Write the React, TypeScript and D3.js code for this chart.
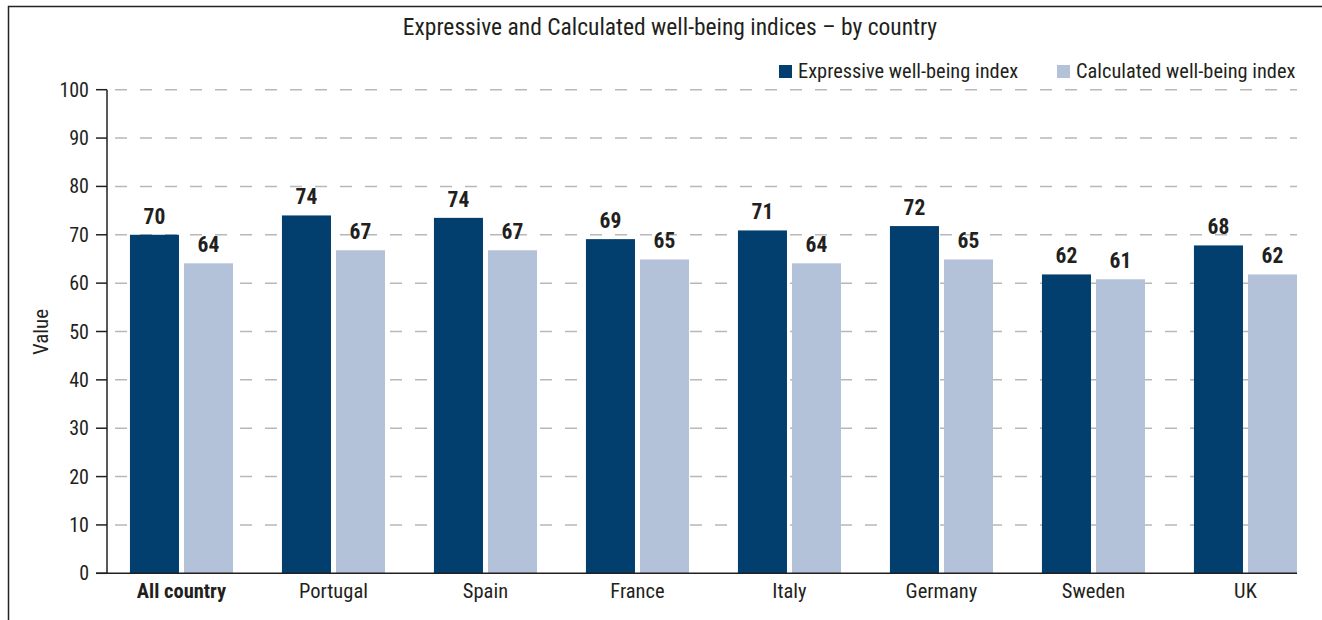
import React from "react";
import * as d3 from "d3";

const categories = ["All country", "Portugal", "Spain", "France", "Italy", "Germany", "Sweden", "UK"];
const seriesNames = ["Expressive well-being index", "Calculated well-being index"];
const expressive = [70.0, 74.0, 73.5, 69.1, 70.9, 71.8, 61.8, 67.8];
const calculated = [64.1, 66.8, 66.8, 64.9, 64.1, 64.9, 60.8, 61.8];
const yTicks = [0, 10, 20, 30, 40, 50, 60, 70, 80, 90, 100];
const colors = ["#023f6e", "#b3c2d8"];

const W = 1322;
const H = 620;
const FONT = "'Liberation Sans Narrow', 'Arial Narrow', 'Roboto Condensed', Roboto, sans-serif";

export default function App() {
  const left = 107;
  const right = 1297;
  const top = 89.7;
  const bottom = 573.3;

  const y = d3.scaleLinear().domain([0, 100]).range([bottom, top]);
  const x0 = d3
    .scaleBand<string>()
    .domain(categories)
    .range([left, right])
    .paddingInner(0.322)
    .paddingOuter(0.0755)
    .align(1);
  const x1 = d3
    .scaleBand<number>()
    .domain([0, 1])
    .range([0, x0.bandwidth()])
    .paddingInner(0.0926);

  const series = [expressive, calculated];

  return (
    <svg
      width={W}
      height={H}
      style={{ position: "absolute", left: 0, top: 0, background: "#fff" }}
      fontFamily={FONT}
    >
      <rect x={8.5} y={6.5} width={1400} height={700} fill="none" stroke="#222" strokeWidth={1.5} />
      <text x={670} y={35} textAnchor="middle" fontSize={23.5} fill="#231f20">
        Expressive and Calculated well-being indices – by country
      </text>

      {/* gridlines */}
      {yTicks.filter((t) => t > 0).map((t) => (
        <line
          key={"g" + t}
          x1={left + 8}
          x2={right}
          y1={y(t)}
          y2={y(t)}
          stroke="#b8b8b8"
          strokeWidth={1.5}
          strokeDasharray="12,13"
        />
      ))}

      {/* bars */}
      {categories.map((c, i) => (
        <g key={c} transform={`translate(${x0(c)},0)`}>
          {series.map((s, k) => (
            <rect
              key={k}
              x={x1(k)}
              y={y(s[i])}
              width={x1.bandwidth()}
              height={y(0) - y(s[i])}
              fill={colors[k]}
            />
          ))}
          {series.map((s, k) => (
            <text
              key={"l" + k}
              x={(x1(k) as number) + x1.bandwidth() / 2}
              y={y(s[i]) - 11}
              textAnchor="middle"
              fontSize={21.5}
              fontWeight="bold"
              fill="#231f20"
            >
              {Math.round(s[i])}
            </text>
          ))}
          <text
            x={x0.bandwidth() / 2}
            y={598}
            textAnchor="middle"
            fontSize={20.5}
            fontWeight={i === 0 ? "bold" : "normal"}
            fill="#231f20"
          >
            {c}
          </text>
        </g>
      ))}

      {/* y axis */}
      <line x1={left} x2={left} y1={top} y2={bottom} stroke="#231f20" strokeWidth={1.5} />
      <line x1={96} x2={right} y1={bottom} y2={bottom} stroke="#231f20" strokeWidth={1.5} />
      {yTicks.map((t) => (
        <g key={"t" + t}>
          <line x1={96} x2={left} y1={y(t)} y2={y(t)} stroke="#231f20" strokeWidth={1.5} />
          <text x={89} y={y(t) + 7} textAnchor="end" fontSize={20} fill="#231f20">
            {t}
          </text>
        </g>
      ))}
      <text
        transform={`translate(48,332) rotate(-90)`}
        textAnchor="middle"
        fontSize={21}
        fill="#231f20"
      >
        Value
      </text>

      {/* legend */}
      <rect x={779} y={65} width={13} height={13} fill={colors[0]} />
      <text x={798} y={78} fontSize={20.4} fill="#231f20">
        {seriesNames[0]}
      </text>
      <rect x={1057} y={65} width={13} height={13} fill={colors[1]} />
      <text x={1076} y={78} fontSize={20.4} fill="#231f20">
        {seriesNames[1]}
      </text>
    </svg>
  );
}
